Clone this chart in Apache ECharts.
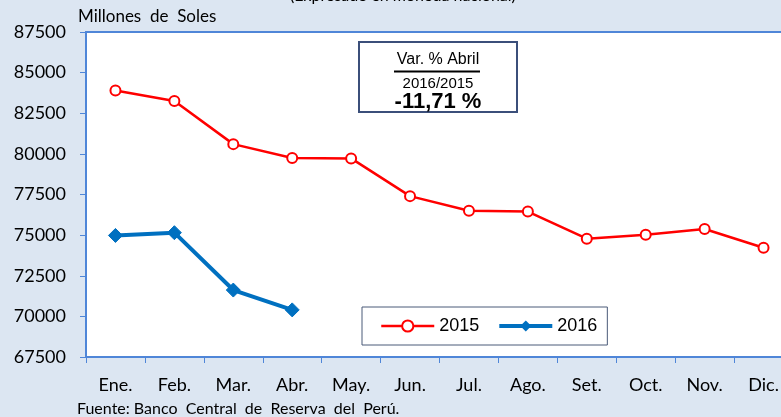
<!DOCTYPE html>
<html>
<head>
<meta charset="utf-8">
<script src="https://cdn.jsdelivr.net/npm/echarts@6/dist/echarts.min.js"></script>
<style>
    html, body { margin: 0; padding: 0; background: #dce6f2; overflow: hidden; }
    #chart { width: 800px; height: 417px; }
</style>
</head>
<body>
<div id="chart"></div>
<script>
var months = ["Ene.", "Feb.", "Mar.", "Abr.", "May.", "Jun.", "Jul.", "Ago.", "Set.", "Oct.", "Nov.", "Dic."];
var values2015 = [83900, 83250, 80600, 79750, 79720, 77400, 76500, 76450, 74780, 75020, 75380, 74220];
var values2016 = [74980, 75150, 71620, 70400];
var seriesNames = ["2015", "2016"];

var blue = "#4f86d8";
var chart = echarts.init(document.getElementById("chart"));
chart.setOption({
    backgroundColor: "#dce6f2",
    animation: false,
    grid: {
        left: 86,
        top: 32,
        width: 707,
        height: 325,
        show: true,
        backgroundColor: "#ffffff",
        borderColor: blue,
        borderWidth: 2
    },
    legend: {
        left: 362,
        top: 307,
        width: 242,
        height: 38,
        padding: [10, 10, 10, 18],
        itemGap: 18,
        itemWidth: 53,
        itemHeight: 14,
        backgroundColor: "#ffffff",
        borderColor: "#4a5a78",
        borderWidth: 1,
        textStyle: { fontFamily: "Liberation Sans", fontSize: 18, color: "#000" },
        data: [
            { name: seriesNames[0], lineStyle: { width: 2.5 } },
            { name: seriesNames[1], lineStyle: { width: 4 } }
        ]
    },
    xAxis: {
        type: "category",
        data: months,
        boundaryGap: true,
        axisLine: { lineStyle: { color: blue, width: 2 } },
        axisTick: { show: true, length: 6, lineStyle: { color: blue, width: 1 } },
        axisLabel: { margin: 19, fontFamily: "Lato", fontSize: 18, color: "#000" }
    },
    yAxis: {
        type: "value",
        min: 67500,
        max: 87500,
        interval: 2500,
        splitLine: { show: false },
        axisLine: { show: true, lineStyle: { color: blue, width: 2 } },
        axisTick: { show: true, length: 6, lineStyle: { color: blue, width: 1 } },
        axisLabel: {
            margin: 20, fontFamily: "Lato", fontSize: 18, color: "#000",
            formatter: function (v) { return String(v); }
        }
    },
    series: [
        {
            name: seriesNames[0],
            type: "line",
            data: values2015,
            symbol: "circle",
            symbolSize: 10,
            lineStyle: { color: "#ff0000", width: 2.5 },
            itemStyle: { color: "#ffffff", borderColor: "#ff0000", borderWidth: 2 }
        },
        {
            name: seriesNames[1],
            type: "line",
            data: values2016,
            symbol: "diamond",
            symbolSize: 14,
            lineStyle: { color: "#0070c0", width: 4 },
            itemStyle: { color: "#0070c0", borderColor: "#0070c0" }
        }
    ],
    graphic: [
        {
            type: "text", left: 290, top: -12,
            style: { text: "(Expresado en moneda nacional)", fontFamily: "Lato", fontSize: 16, fill: "#000" }
        },
        {
            type: "text", left: 78, top: 8,
            style: { text: "Millones  de  Soles", fontFamily: "Lato", fontSize: 17, fill: "#000" }
        },
        {
            type: "text", left: 77, top: 401,
            style: { text: "Fuente: Banco  Central  de  Reserva  del  Perú.", fontFamily: "Lato", fontSize: 16, fill: "#000" }
        },
        {
            type: "group",
            left: 358, top: 41,
            children: [
                {
                    type: "rect",
                    shape: { x: 0, y: 0, width: 158, height: 70 },
                    style: { fill: "#ffffff", stroke: "#3b4f7a", lineWidth: 2 }
                },
                {
                    type: "text", x: 79, y: 18,
                    style: { text: "Var. % Abril", fontFamily: "Liberation Sans", fontSize: 16, fill: "#000", align: "center", verticalAlign: "middle" }
                },
                {
                    type: "line",
                    shape: { x1: 35, y1: 29.5, x2: 121, y2: 29.5 },
                    style: { stroke: "#000", lineWidth: 2 }
                },
                {
                    type: "text", x: 79, y: 41.5,
                    style: { text: "2016/2015", fontFamily: "Liberation Sans", fontSize: 15, fill: "#000", align: "center", verticalAlign: "middle" }
                },
                {
                    type: "text", x: 79, y: 60,
                    style: { text: "-11,71 %", fontFamily: "Liberation Sans", fontSize: 22, fontWeight: "bold", fill: "#000", align: "center", verticalAlign: "middle" }
                }
            ]
        }
    ]
});
</script>
</body>
</html>
